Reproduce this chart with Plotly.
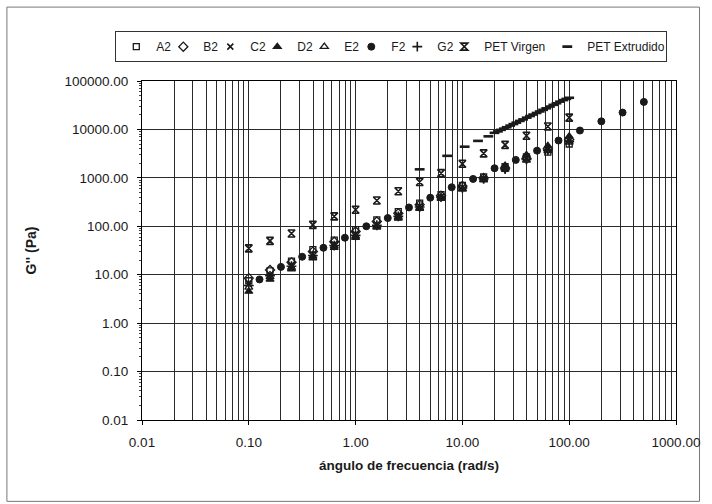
import plotly.graph_objects as go

# ---- data ----
freq = [0.1, 0.158, 0.251, 0.398, 0.631, 1.0, 1.58, 2.51, 3.98, 6.31, 10.0, 15.8, 25.1, 39.8, 63.1, 100.0]

a2 = [7.5, 12, 19, 33, 52, 85, 135, 200, 300, 450, 700, 1050, 1700, 2700, 3400, 5000]
b2 = [8.5, 12.5, 18, 30, 48, 78, 125, 185, 280, 430, 680, 1000, 1600, 2500, 4000, 6200]
c2 = [6.5, 10, 16, 27, 43, 70, 110, 170, 260, 410, 640, 980, 1550, 2450, 3800, 5800]
d2 = [4.5, 8, 13, 22, 36, 58, 95, 145, 230, 370, 580, 900, 1800, 3000, 4600, 7200]
e2 = [5.5, 9, 14, 24, 39, 62, 100, 155, 240, 390, 600, 930, 1500, 2300, 3600, 5400]
g2 = [6, 9.5, 15, 25, 40, 65, 105, 160, 250, 400, 620, 950, 1520, 2400, 3700, 5600]

freq_f2 = [0.126, 0.2, 0.316, 0.5, 0.794, 1.26, 2.0, 3.16, 5.0, 7.94, 12.6, 20.0, 31.6, 50.0, 79.4, 126, 200, 316, 500]
f2 = [8, 14.5, 23.5, 36, 58, 100, 148, 245, 390, 640, 950, 1580, 2350, 3650, 5900, 9500, 14700, 22300, 37000]

pet_virgen = [35, 50, 71, 107, 160, 220, 340, 530, 820, 1250, 1950, 3200, 4800, 7400, 11500, 17500]

freq_ext = [3.98, 7.2, 10.5, 14.0, 17.5, 20.0, 21.5, 23.0, 24.5, 26.0, 28.0, 30.0, 32.0, 34.5,
            37.0, 40.0, 43.0, 46.0, 49.5, 53.0, 57.0, 61.0, 66.0, 71.0, 76.0, 82.0, 88.0, 94.0, 100.0]
pet_extrudido = [1500, 2850, 4400, 5800, 7200, 8500, 9100, 9800, 10400, 11100, 12000, 12900, 13800,
                 15000, 16100, 17500, 18900, 20300, 21900, 23500, 25400, 27300, 29700, 32200,
                 34700, 37500, 40300, 42700, 45000]

x_tickvals = [0.01, 0.1, 1, 10, 100, 1000]
x_ticktext = ["0.01", "0.10", "1.00", "10.00", "100.00", "1000.00"]
y_tickvals = [0.01, 0.1, 1, 10, 100, 1000, 10000, 100000]
y_ticktext = ["0.01", "0.10", "1.00", "10.00", "100.00", "1000.00", "10000.00", "100000.00"]
minor_vals = [k * 10.0 ** d for d in range(-2, 3) for k in range(2, 10)]
y_minor_vals = [k * 10.0 ** d for d in range(-2, 5) for k in range(2, 10)]

FONT = "Liberation Sans, Arial, sans-serif"
INK = "#1a1a1a"
LEG_FS = 12

fig = go.Figure()

def add(name, x, y, symbol, size=7, lw=1.2, lwidth=None):
    fig.add_trace(go.Scatter(
        x=x, y=y, name=name, mode="markers",
        marker=dict(symbol=symbol, size=size, color=INK,
                    line=dict(color=INK, width=lw)),
        legendwidth=lwidth,
    ))

add("A2", freq, a2, "square-open", 6, 1.3, 2)
add("B2", freq, b2, "diamond-open", 7, 1.3, 2)
add("C2", freq, c2, "x-thin-open", 6, 1.6, 2)
add("D2", freq, d2, "triangle-up", 7, 1.2, 2)
add("E2", freq, e2, "triangle-up-open", 7, 1.3, 2)
add("F2", freq_f2, f2, "circle", 7, 1.0, 1)
add("G2", freq, g2, "cross-thin-open", 7, 1.6, 2)
add("PET Virgen", freq, pet_virgen, "hourglass-open", 7, 1.6, 58)
add("PET Extrudido", freq_ext, pet_extrudido, "line-ew-open", 7, 2.6, 74)

axis_common = dict(
    type="log",
    showline=True, linecolor="black", linewidth=1, mirror=True,
    showgrid=True, gridcolor="#2a2a2a", gridwidth=1,
    zeroline=False,
    tickfont=dict(family=FONT, size=13.5, color=INK),
    ticks="outside", ticklen=4, tickcolor="black",
    ticklabelstandoff=6,
)

fig.update_xaxes(
    **axis_common,
    range=[-2, 3],
    tickmode="array", tickvals=x_tickvals, ticktext=x_ticktext,
    minor=dict(tickmode="array", tickvals=minor_vals, showgrid=True,
               gridcolor="#2a2a2a", gridwidth=1, ticks=""),
    title=dict(text="<b>ángulo de frecuencia (rad/s)</b>",
               font=dict(family=FONT, size=13.5, color=INK), standoff=11),
)
fig.update_yaxes(
    **axis_common,
    range=[-2, 5],
    tickmode="array", tickvals=y_tickvals, ticktext=y_ticktext,
    minor=dict(tickmode="array", tickvals=y_minor_vals, ticks="outside",
               ticklen=2, tickcolor="#444", showgrid=False),
    title=dict(text="<b>G'' (Pa)</b>",
               font=dict(family=FONT, size=14, color=INK), standoff=24),
)

fig.update_layout(
    width=712, height=504,
    margin=dict(l=142, r=29, t=81, b=84),
    paper_bgcolor="white", plot_bgcolor="white",
    font=dict(family=FONT, size=12, color=INK),
    showlegend=True,
    legend=dict(
        orientation="h", x=-0.05, y=1.147, xanchor="left", yanchor="top",
        bordercolor="#333", borderwidth=1, bgcolor="white",
        font=dict(family=FONT, size=LEG_FS, color=INK),
        itemwidth=30, tracegroupgap=0, entrywidthmode="pixels",
    ),
    shapes=[dict(type="rect", xref="paper", yref="paper",
                 x0=-0.253, x1=1.044, y0=-0.24, y1=1.218,
                 line=dict(color="#777", width=1), layer="below")],
)

fig.write_html("out.html",
               config={"displayModeBar": False},
               post_script="document.body.style.margin='0px';document.body.style.padding='0px';")
